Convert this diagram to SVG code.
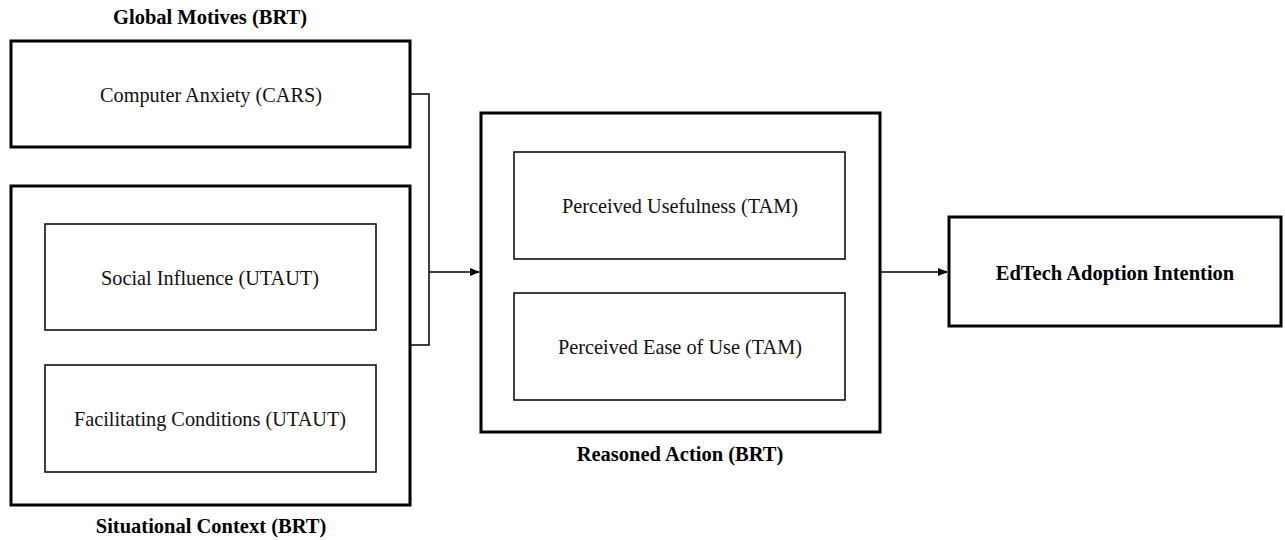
<svg xmlns="http://www.w3.org/2000/svg" width="1285" height="540" viewBox="0 0 1285 540">
<style>
.outer{fill:#fff;stroke:#000;stroke-width:3}
.inner{fill:#fff;stroke:#000;stroke-width:1.5}
.t{font-family:"Liberation Serif","Times New Roman",serif;font-size:20.3px;fill:#111;text-anchor:middle;dominant-baseline:central}
.b{font-family:"Liberation Serif","Times New Roman",serif;font-size:20.5px;font-weight:bold;fill:#000;text-anchor:middle}
.c{fill:none;stroke:#000;stroke-width:1.5}
</style>
<defs>
<marker id="ah" markerWidth="10" markerHeight="8" refX="9" refY="4" orient="auto" markerUnits="userSpaceOnUse">
<path d="M0,0 L10,4 L0,8 z" fill="#000"/>
</marker>
</defs>
<rect width="1285" height="540" fill="#fff"/>
<g id="connectors">
<path class="c" d="M411,94 H429 V345 H411"/>
<path class="c" d="M429,272 H479" marker-end="url(#ah)"/>
<path class="c" d="M880,272 H947" marker-end="url(#ah)"/>
</g>
<g id="global-motives">
<text class="b" x="210" y="24">Global Motives (BRT)</text>
<rect class="outer" x="11" y="41" width="399" height="106"/>
<text class="t" x="211" y="95">Computer Anxiety (CARS)</text>
</g>
<g id="situational-context">
<rect class="outer" x="11" y="186" width="399" height="319"/>
<text class="b" x="211" y="533">Situational Context (BRT)</text>
</g>
<g id="social-influence">
<rect class="inner" x="45" y="224" width="331" height="106"/>
<text class="t" x="210" y="278">Social Influence (UTAUT)</text>
</g>
<g id="facilitating-conditions">
<rect class="inner" x="45" y="365" width="331" height="107"/>
<text class="t" x="210" y="419">Facilitating Conditions (UTAUT)</text>
</g>
<g id="reasoned-action">
<rect class="outer" x="481" y="113" width="399" height="319"/>
<text class="b" x="680" y="461">Reasoned Action (BRT)</text>
</g>
<g id="perceived-usefulness">
<rect class="inner" x="514" y="152" width="331" height="107"/>
<text class="t" x="680" y="206">Perceived Usefulness (TAM)</text>
</g>
<g id="perceived-ease">
<rect class="inner" x="514" y="293" width="331" height="107"/>
<text class="t" x="680" y="347">Perceived Ease of Use (TAM)</text>
</g>
<g id="edtech-adoption">
<rect class="outer" x="949" y="217" width="332" height="109"/>
<text class="b" x="1115" y="280">EdTech Adoption Intention</text>
</g>
</svg>
